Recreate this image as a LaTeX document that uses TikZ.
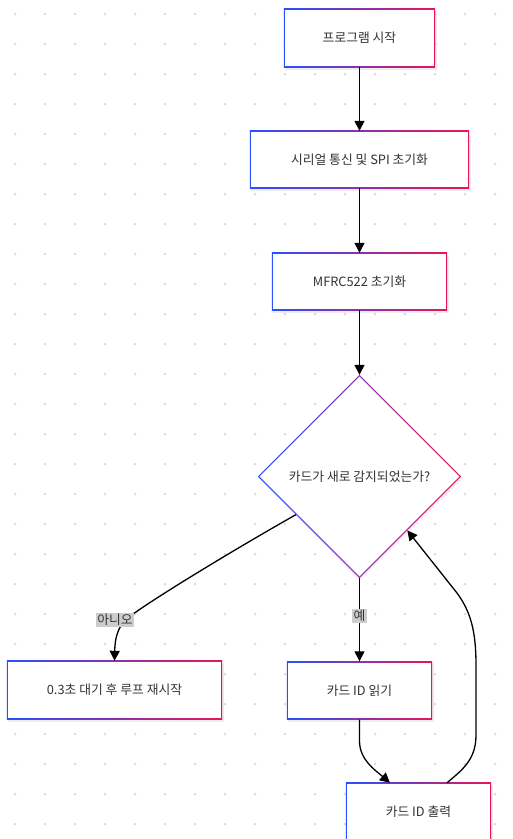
\documentclass[tikz,border=0pt]{standalone}
\usepackage{fontspec}
\setmainfont{Noto Sans CJK KR}
\usetikzlibrary{shapes.geometric,arrows.meta,calc}
\pgfdeclarelayer{bg}
\pgfsetlayers{bg,main}
\definecolor{cL}{RGB}{40,80,255}
\definecolor{cM}{RGB}{140,50,170}
\definecolor{cR}{RGB}{235,20,90}
\definecolor{txt}{HTML}{333333}
\definecolor{dotc}{HTML}{DCDCDC}
\definecolor{lblbg}{HTML}{CCCCCC}
\begin{document}
\begin{tikzpicture}[x=1pt,y=-1pt,
  txtfont/.style={text=txt, font=\fontsize{12.8}{15}\selectfont},
  boxn/.style={rectangle, inner sep=0pt, txtfont},
  dian/.style={diamond, aspect=1, inner sep=0pt, minimum width=203pt, minimum height=203pt, txtfont},
  lbl/.style={fill=lblbg, inner sep=1.2pt, txtfont},
  arr/.style={line width=1.3pt, -{Triangle[length=10pt,width=10pt]}},
  grad/.style={left color=cL, middle color=cM, right color=cR},
]
\useasboundingbox (0,0) rectangle (513,839);
\node[boxn, minimum width=151pt, minimum height=58pt] (n1) at (359.5,38) {프로그램 시작};
\node[boxn, minimum width=219pt, minimum height=57pt] (n2) at (359.5,159.5) {시리얼 통신 및 SPI 초기화};
\node[boxn, minimum width=175pt, minimum height=57pt] (n3) at (359.5,281.5) {MFRC522 초기화};
\node[dian] (d) at (359.5,476.5) {카드가 새로 감지되었는가?};
\node[boxn, minimum width=215pt, minimum height=58pt] (n4) at (114.5,690) {0.3초 대기 후 루프 재시작};
\node[boxn, minimum width=145pt, minimum height=58pt] (n5) at (359.5,690.5) {카드 ID 읽기};
\node[boxn, minimum width=145pt, minimum height=58pt] (n6) at (418.5,812) {카드 ID 출력};

\draw[arr] (n1.south) -- (n2.north);
\draw[arr] (n2.south) -- (n3.north);
\draw[arr] (n3.south) -- (d.north);
\draw[arr] ($(d.west)!0.375!(d.south)$) .. controls (230,552) and (160,595) .. (136,612) .. controls (117,623) and (115,638) .. (n4.north);
\node[lbl] (l1) at (115,620) {아니오};
\draw[arr] (d.south) -- (n5.north);
\node[lbl] (l2) at (359.5,615.5) {예};
\draw[arr] (n5.south) -- ++(0,22) .. controls (360,760) and (375,770) .. ([xshift=-28.5pt]n6.north);
\draw[arr] ([xshift=28.5pt]n6.north) .. controls (462,770) and (476,760) .. (476,735) -- (476,665) .. controls (476,632) and (471,612) .. (457,593) -- ($(d.south)!0.47!(d.east)$);

\begin{pgfonlayer}{bg}
\foreach \i in {0,...,16}{
  \foreach \j in {0,...,27}{
    \fill[dotc] (15+30*\i,14+30*\j) circle (1.5pt);
  }
}
\foreach \n in {n1,n2,n3,n4,n5,n6}{
  \fill[black,opacity=0.07] ([xshift=1pt,yshift=-2pt]\n.north west) rectangle ([xshift=2pt,yshift=-2.5pt]\n.south east);
  \shade[grad] (\n.north west) rectangle (\n.south east);
  \fill[white] ([xshift=1.6pt,yshift=-1.6pt]\n.north west) rectangle ([xshift=-1.6pt,yshift=1.6pt]\n.south east);
}
\fill[black,opacity=0.06] ([yshift=-2pt]d.north) -- ([xshift=1.5pt,yshift=-2pt]d.east) -- ([yshift=-2.5pt]d.south) -- ([xshift=1pt,yshift=-2pt]d.west) -- cycle;
\shade[grad] (d.north) -- (d.east) -- (d.south) -- (d.west) -- cycle;
\fill[white] ([yshift=-1.9pt]d.north) -- ([xshift=-1.9pt]d.east) -- ([yshift=1.9pt]d.south) -- ([xshift=1.9pt]d.west) -- cycle;
\end{pgfonlayer}
\end{tikzpicture}
\end{document}
